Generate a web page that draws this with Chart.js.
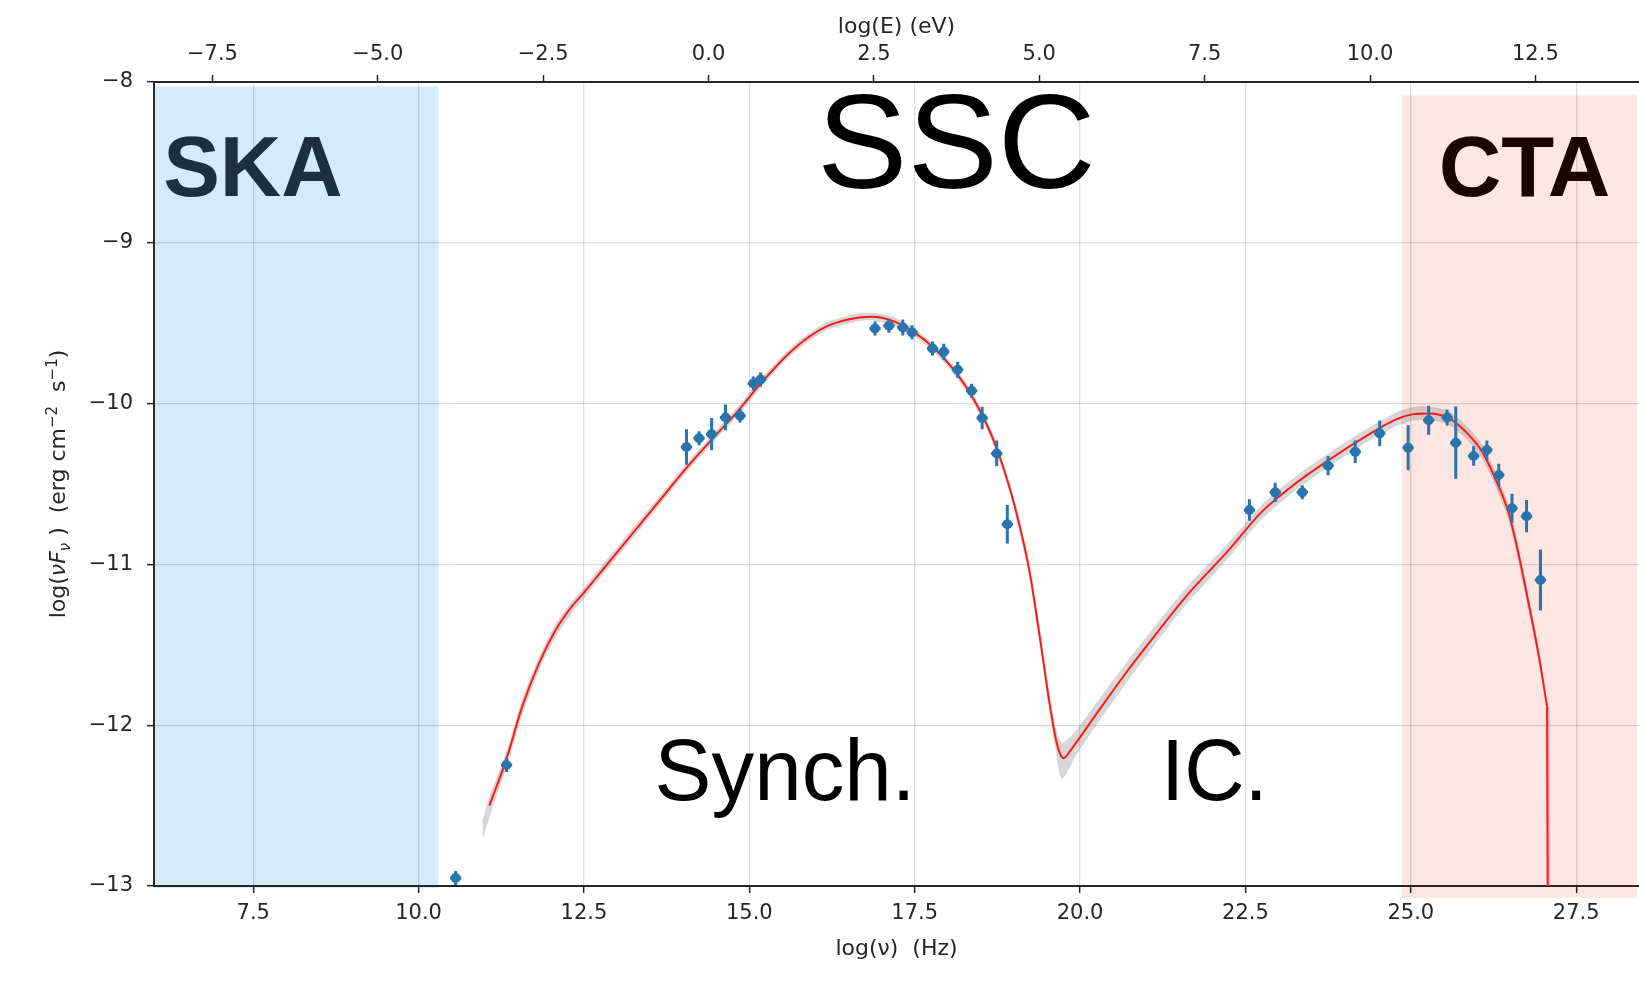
<!DOCTYPE html>
<html>
<head>
<meta charset="utf-8">
<script src="https://cdn.jsdelivr.net/npm/chart.js@4.4.1/dist/chart.umd.min.js"></script>
<style>
html,body{margin:0;padding:0;background:#fff;overflow:hidden;}
#wrap{width:1639px;height:981px;position:relative;}
canvas{display:block;}
</style>
</head>
<body>
<div id="wrap"><canvas id="c"></canvas></div>
<script>
// ---------- observed SED points: log(nu) [Hz], log(nuFnu), y error ----------
const obsX   = [10.56, 11.33,
  14.05, 14.24, 14.43, 14.64, 14.86, 15.06, 15.17, 16.90, 17.11, 17.32, 17.46, 17.77, 17.94, 18.15, 18.36, 18.52, 18.74, 18.90,
  22.56, 22.95, 23.36, 23.75, 24.16, 24.53, 24.96, 25.27, 25.55, 25.68, 25.95, 26.15, 26.33, 26.53, 26.75, 26.96];
const obsY   = [-12.95, -12.247,
  -10.27, -10.216, -10.19, -10.086, -10.076, -9.875, -9.85, -9.533, -9.516, -9.527, -9.557, -9.657, -9.678, -9.79, -9.92, -10.09, -10.31, -10.75,
  -10.662, -10.552, -10.552, -10.386, -10.30, -10.185, -10.274, -10.103, -10.086, -10.243, -10.326, -10.289, -10.444, -10.651, -10.70, -11.097];
const obsErr = [0.02, 0.02,
  0.11, 0.04, 0.10, 0.08, 0.03, 0.03, 0.03, 0.03, 0.03, 0.05, 0.03, 0.03, 0.05, 0.05, 0.04, 0.07, 0.08, 0.12,
  0.067, 0.06, 0.04, 0.06, 0.07, 0.08, 0.14, 0.09, 0.05, 0.225, 0.06, 0.06, 0.07, 0.09, 0.10, 0.19];
const obsXErr = 0.085;

// ---------- SSC model (red curve) ----------
const modelX = [11.07, 11.32, 11.57, 11.82, 12.07, 12.32, 12.49, 12.83, 13.13, 13.64, 14.05, 14.44, 14.84, 15.15, 15.65, 16.15, 16.66, 16.86,
  17.16, 17.46, 17.77, 18.07, 18.37, 18.67, 18.93, 19.08, 19.23, 19.38, 19.53, 19.63, 19.70, 19.75, 19.85, 19.93, 20.29, 20.69, 21.04, 21.60,
  22.25, 22.75, 23.26, 23.76, 24.27, 24.77, 25.02, 25.27, 25.58, 25.88, 26.08, 26.28, 26.48, 26.62, 26.79, 26.94, 27.06, 27.08];
const modelY = [-12.50, -12.22, -11.88, -11.615, -11.41, -11.26, -11.18, -11.01, -10.86, -10.605, -10.40, -10.22, -10.04, -9.885, -9.668, -9.523, -9.464, -9.46,
  -9.485, -9.548, -9.647, -9.78, -9.958, -10.206, -10.517, -10.75, -11.03, -11.42, -11.84, -12.08, -12.18, -12.205, -12.16, -12.115, -11.905, -11.677, -11.49, -11.20,
  -10.91, -10.672, -10.496, -10.351, -10.216, -10.10, -10.067, -10.061, -10.092, -10.196, -10.30, -10.47, -10.68, -10.92, -11.26, -11.58, -11.885, -14.5];

// ---------- model uncertainty band ----------
const bandX  = [10.97, 11.07, 11.32, 11.57, 11.82, 12.07, 12.32, 12.49, 12.83, 13.13, 13.64, 14.05, 14.44, 14.84, 15.15, 15.65, 16.15, 16.66, 16.86,
  17.16, 17.46, 17.77, 18.07, 18.37, 18.67, 18.93, 19.08, 19.23, 19.38, 19.53, 19.63, 19.73, 19.93, 20.29, 20.69, 21.04, 21.60,
  22.25, 22.75, 23.26, 23.76, 24.27, 24.77, 25.02, 25.27, 25.58, 25.88, 26.08, 26.28, 26.48, 26.62, 26.79, 26.94, 27.06];
const bandHi = [-12.60, -12.45, -12.18, -11.84, -11.58, -11.375, -11.23, -11.15, -10.98, -10.83, -10.58, -10.375, -10.195, -10.015, -9.86, -9.645, -9.50, -9.44, -9.437,
  -9.462, -9.525, -9.625, -9.757, -9.935, -10.18, -10.49, -10.72, -11.00, -11.38, -11.80, -12.02, -12.11, -12.04, -11.84, -11.62, -11.435, -11.15,
  -10.865, -10.63, -10.455, -10.31, -10.175, -10.06, -10.025, -10.02, -10.05, -10.155, -10.26, -10.43, -10.64, -10.88, -11.225, -11.545, -11.86];
const bandLo = [-12.70, -12.57, -12.27, -11.93, -11.655, -11.45, -11.30, -11.215, -11.04, -10.89, -10.63, -10.425, -10.245, -10.065, -9.91, -9.69, -9.545, -9.485, -9.482,
  -9.508, -9.57, -9.67, -9.803, -9.98, -10.23, -10.54, -10.78, -11.06, -11.46, -11.88, -12.14, -12.33, -12.19, -11.97, -11.74, -11.545, -11.25,
  -10.955, -10.715, -10.537, -10.39, -10.255, -10.14, -10.105, -10.10, -10.13, -10.235, -10.34, -10.51, -10.72, -10.96, -11.295, -11.615, -11.91];
const bandEndX = [27.10, 27.10, 27.06];
const bandEndY = [-11.90, -14.5, -14.5];

// ---------- axes ----------
const bottomTicks = [7.5, 10.0, 12.5, 15.0, 17.5, 20.0, 22.5, 25.0, 27.5];
const topTicks    = [-7.5, -5.0, -2.5, 0.0, 2.5, 5.0, 7.5, 10.0, 12.5];
const yTicks      = [-13, -12, -11, -10, -9, -8];
const logPlanckEV = -14.3835;          // log10(h [eV s]) : log E = log nu + this
const xMin = 6.0, xMax = 28.45, yMin = -13, yMax = -8;

// ---------- instrument bands ----------
const skaX = [6.0, 10.30],  skaY = [-8.027, -13.012];
const ctaX = [24.86, 28.42], ctaY = [-8.083, -13.073];

// ---------- labels ----------
const annotations = [
  {text: 'SSC',    x: 18.13, y: -8.66,   size: 133, weight: 'normal', color: '#000000', sx: 1.02},
  {text: 'SKA',    x: 7.495, y: -8.707,  size: 85,  weight: 'bold',   color: '#1b3044', sx: 1.0},
  {text: 'CTA',    x: 26.72, y: -8.707,  size: 85,  weight: 'bold',   color: '#1a0500', sx: 1.02},
  {text: 'Synch.', x: 15.54, y: -12.468, size: 88,  weight: 'normal', color: '#000000', sx: 0.97},
  {text: 'IC.',    x: 22.03, y: -12.468, size: 88,  weight: 'normal', color: '#000000', sx: 0.95}
];
// y-axis title pieces (normal text, italic math, sub/superscripts)
const yTitleParts = [
  {t: 'log(', s: 'n'}, {t: '\u03bd', s: 'i'}, {t: 'F', s: 'i'}, {t: '\u03bd', s: 'sub'},
  {t: ' )  (erg cm', s: 'n'}, {t: '\u22122', s: 'sup'}, {t: '  s', s: 'n'}, {t: '\u22121', s: 'sup'}, {t: ')', s: 'n'}
];

const pts = (xs, ys) => xs.map((v, i) => ({x: v, y: ys[i]}));
const bandPoly = pts(bandX, bandHi)
  .concat(pts(bandEndX, bandEndY))
  .concat(pts(bandX, bandLo).reverse());
const modelPts = pts(modelX, modelY);
const modelMain = modelPts.slice(0, modelPts.length - 1);
const modelDrop = modelPts.slice(modelPts.length - 2);

const fmt = v => (v < 0 ? '\u2212' : '') + Math.abs(v).toFixed(1);
const fmtY = v => (v < 0 ? '\u2212' : '') + Math.abs(v);

const TICK_FONT = {family: 'DejaVu Sans', size: 21};
const TITLE_FONT = {family: 'DejaVu Sans', size: 22};
const INK = '#262626';
const GRID = 'rgba(0,0,0,0.13)';
const PT_COLOR = '#2a74ad';

const overlay = {
  id: 'overlay',
  beforeDraw(chart) {
    const {ctx} = chart, x = chart.scales.x, y = chart.scales.y;
    ctx.save();
    ctx.fillStyle = '#ffffff';
    ctx.fillRect(0, 0, chart.width, chart.height);
    const box = (bx, by, col) => {
      const x0 = x.getPixelForValue(bx[0]), x1 = x.getPixelForValue(bx[1]);
      const y0 = y.getPixelForValue(by[0]), y1 = y.getPixelForValue(by[1]);
      ctx.fillStyle = col;
      ctx.fillRect(x0, y0, x1 - x0, y1 - y0);
    };
    box(skaX, skaY, 'rgb(211,235,252)');
    box(ctaX, ctaY, 'rgb(253,229,226)');
    ctx.restore();
  },
  beforeDatasetDraw(chart, args) {
    if (args.index !== 3) return;
    const {ctx, chartArea} = chart, x = chart.scales.x, y = chart.scales.y;
    ctx.save();
    ctx.beginPath();
    ctx.rect(chartArea.left, chartArea.top, chartArea.right - chartArea.left, chartArea.bottom - chartArea.top + 6);
    ctx.clip();
    ctx.strokeStyle = PT_COLOR;
    ctx.lineWidth = 3;
    ctx.lineCap = 'butt';
    obsX.forEach((vx, i) => {
      const px = x.getPixelForValue(vx);
      const py = y.getPixelForValue(obsY[i]);
      const pt = y.getPixelForValue(obsY[i] + obsErr[i]);
      const pb = y.getPixelForValue(obsY[i] - obsErr[i]);
      const pl = x.getPixelForValue(vx - obsXErr);
      const pr = x.getPixelForValue(vx + obsXErr);
      ctx.beginPath();
      ctx.moveTo(px, Math.min(pt, py - 7)); ctx.lineTo(px, Math.max(pb, py + 7));
      ctx.moveTo(pl, py); ctx.lineTo(pr, py);
      ctx.stroke();
    });
    ctx.restore();
  },
  afterDraw(chart) {
    const {ctx, chartArea} = chart, x = chart.scales.x, y = chart.scales.y;
    annotations.forEach(a => {
      ctx.save();
      ctx.font = `${a.weight} ${a.size}px "Liberation Sans", Arial, sans-serif`;
      ctx.fillStyle = a.color;
      ctx.textAlign = 'center';
      ctx.textBaseline = 'alphabetic';
      ctx.translate(x.getPixelForValue(a.x), y.getPixelForValue(a.y));
      ctx.scale(a.sx, 1);
      ctx.fillText(a.text, 0, 0);
      ctx.restore();
    });
    // y-axis title with sub/superscripts
    const fontFor = s => s === 'n' ? '22px "DejaVu Sans"' : s === 'i' ? 'italic 22px "DejaVu Sans"'
                        : s === 'sub' ? 'italic 15px "DejaVu Sans"' : '15px "DejaVu Sans"';
    const shift = s => s === 'sub' ? 5 : s === 'sup' ? -8 : 0;
    ctx.save();
    ctx.fillStyle = INK;
    ctx.textBaseline = 'alphabetic';
    ctx.textAlign = 'left';
    let total = 0;
    const widths = yTitleParts.map(p => { ctx.font = fontFor(p.s); const w = ctx.measureText(p.t).width; total += w; return w; });
    ctx.translate(58, (chartArea.top + chartArea.bottom) / 2);
    ctx.rotate(-Math.PI / 2);
    let cx = -total / 2;
    yTitleParts.forEach((p, i) => {
      ctx.font = fontFor(p.s);
      ctx.fillText(p.t, cx, 7 + shift(p.s));
      cx += widths[i];
    });
    ctx.restore();
  }
};

const zeroPadH = s => { s.paddingLeft = 0; s.paddingRight = 0; };

new Chart(document.getElementById('c'), {
  type: 'scatter',
  data: {
    datasets: [
      {
        label: 'band', data: bandPoly, showLine: true, fill: 'shape',
        backgroundColor: 'rgba(110,110,110,0.28)', borderColor: 'rgba(110,110,110,0.12)', borderWidth: 1,
        pointRadius: 0, tension: 0.25, order: 4
      },
      {
        label: 'SSC model', data: modelMain, showLine: true, fill: false,
        borderColor: '#ff1a1a', borderWidth: 2, pointRadius: 0,
        cubicInterpolationMode: 'monotone', order: 3
      },
      {
        label: 'SSC model cutoff', data: modelDrop, showLine: true, fill: false,
        borderColor: '#ff1a1a', borderWidth: 2, pointRadius: 0, tension: 0, order: 2
      },
      {
        label: 'data', data: pts(obsX, obsY), showLine: false,
        backgroundColor: PT_COLOR, borderWidth: 0, pointRadius: 5, pointStyle: 'circle', order: 1
      }
    ]
  },
  options: {
    responsive: true, maintainAspectRatio: false, devicePixelRatio: 1, animation: false,
    layout: {padding: 0, autoPadding: false},
    plugins: {legend: {display: false}, tooltip: {enabled: false}},
    scales: {
      x: {
        type: 'linear', position: 'bottom', min: xMin, max: xMax,
        afterBuildTicks: s => { s.ticks = bottomTicks.map(v => ({value: v})); },
        afterFit: s => { s.height = 95; zeroPadH(s); },
        ticks: {callback: v => fmt(v), font: TICK_FONT, color: INK, padding: 8, maxRotation: 0, autoSkip: false},
        grid: {color: GRID, lineWidth: 1.3, tickColor: INK, tickLength: 7, tickWidth: 1.5},
        border: {color: INK, width: 2},
        title: {display: true, text: 'log(\u03bd)  (Hz)', font: TITLE_FONT, color: INK, padding: {top: 0, bottom: 19}}
      },
      xTop: {
        type: 'linear', position: 'top', min: xMin + logPlanckEV, max: xMax + logPlanckEV,
        afterBuildTicks: s => { s.ticks = topTicks.map(v => ({value: v})); },
        afterFit: s => { s.height = 82; zeroPadH(s); },
        ticks: {callback: v => fmt(v), font: TICK_FONT, color: INK, padding: 8, maxRotation: 0, autoSkip: false},
        grid: {drawOnChartArea: false, tickColor: INK, tickLength: 7, tickWidth: 1.5},
        border: {color: INK, width: 2},
        title: {display: true, text: 'log(E) (eV)', font: TITLE_FONT, color: INK, padding: {top: 14, bottom: 0}}
      },
      y: {
        type: 'linear', position: 'left', min: yMin, max: yMax,
        afterBuildTicks: s => { s.ticks = yTicks.map(v => ({value: v})); },
        afterFit: s => { s.width = 154; s.paddingTop = 0; s.paddingBottom = 0; },
        ticks: {callback: v => fmtY(v), font: TICK_FONT, color: INK, padding: 14, autoSkip: false},
        grid: {color: GRID, lineWidth: 1.3, tickColor: INK, tickLength: 7, tickWidth: 1.5},
        border: {color: INK, width: 2},
        title: {display: false, text: 'log(\u03bdF\u03bd )  (erg cm\u207b\u00b2  s\u207b\u00b9)'}
      }
    }
  },
  plugins: [overlay]
});
</script>
</body>
</html>
